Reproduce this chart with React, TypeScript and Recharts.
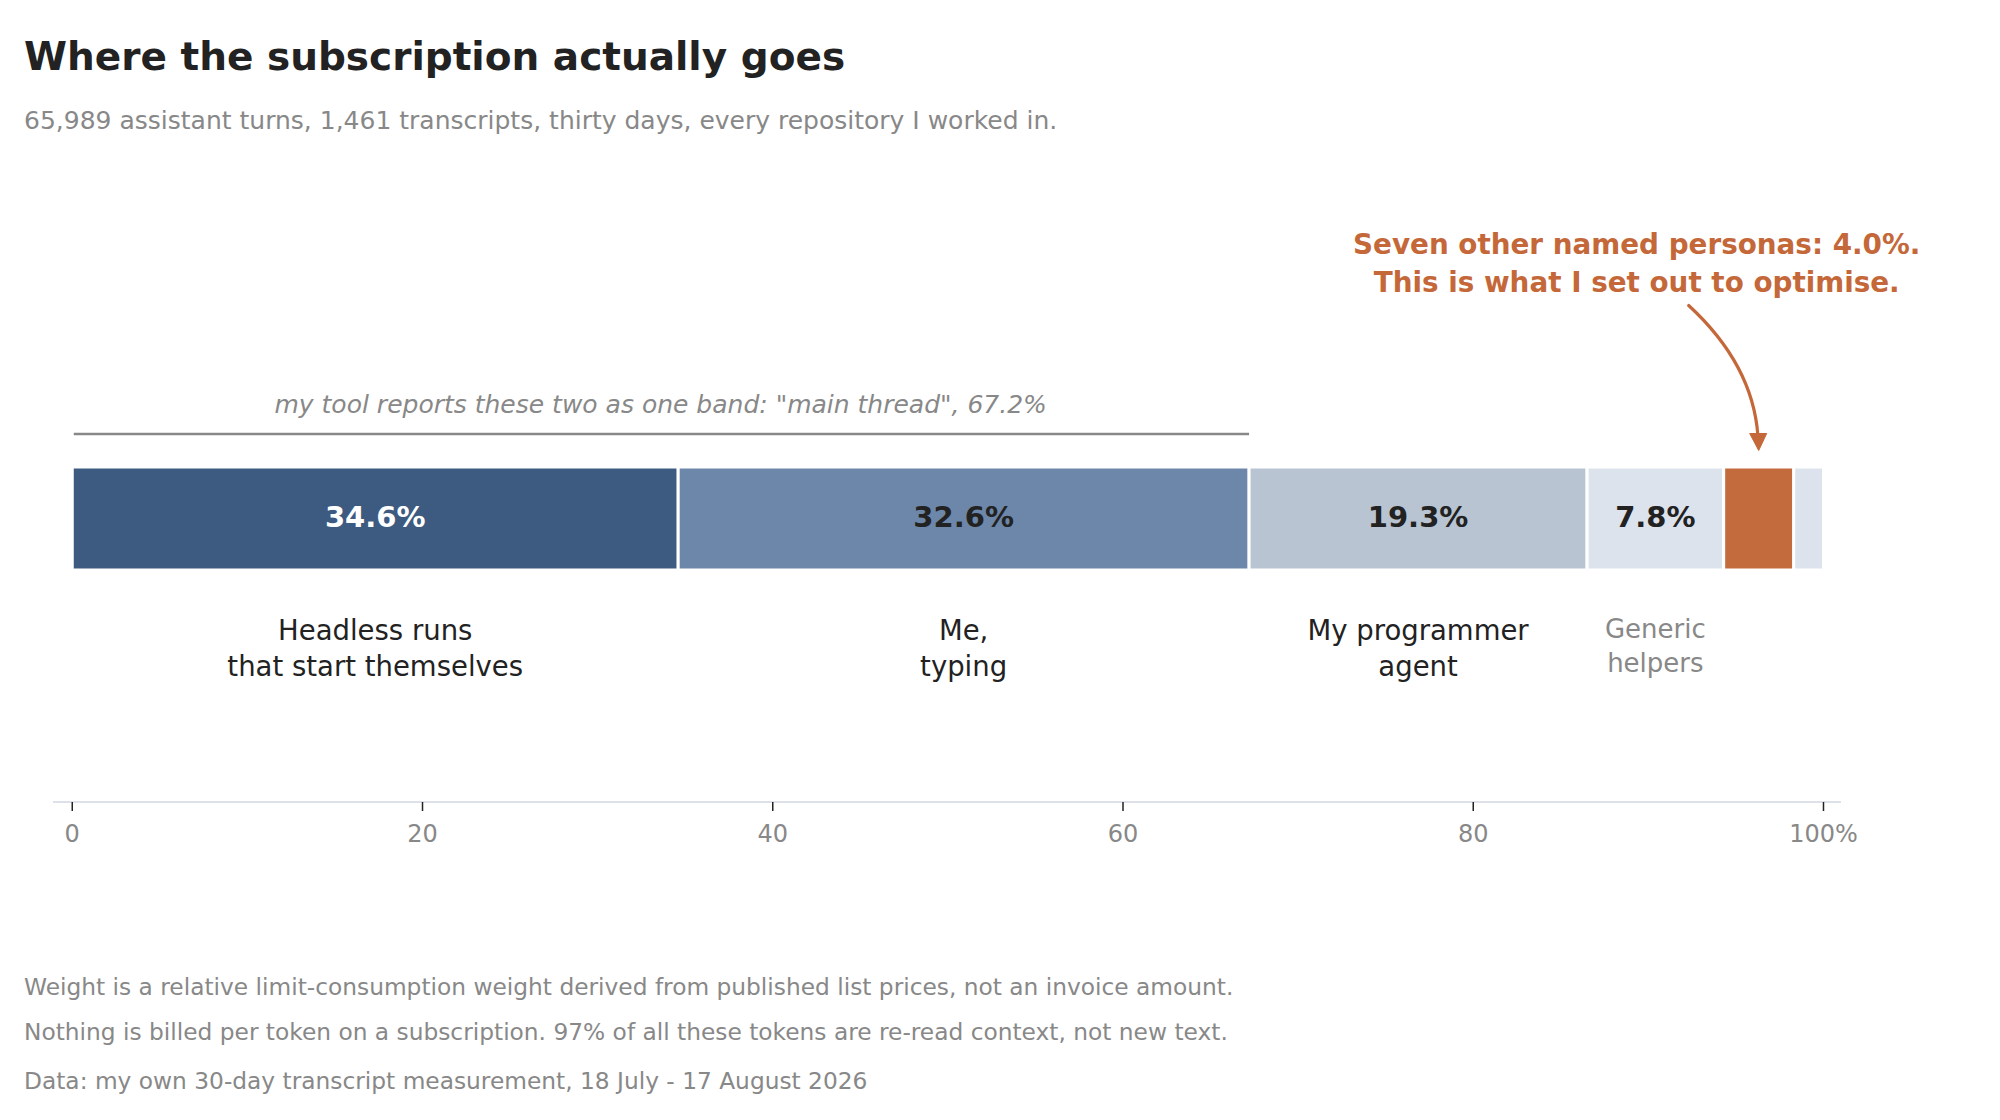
import React from 'react';
import { BarChart, Bar, XAxis, YAxis, LabelList, ReferenceArea } from 'recharts';

// ---- data ----
const bandName = 'all';
const segmentKeys = ['headless', 'me', 'agent', 'generic', 'personas', 'other'];
const segmentShares = [34.6, 32.6, 19.3, 7.8, 4.0, 1.7];
const segmentNames = [
  ['Headless runs', 'that start themselves'],
  ['Me,', 'typing'],
  ['My programmer', 'agent'],
  ['Generic', 'helpers'],
  [],
  [],
];
const showValueLabel = [true, true, true, true, false, false];
const xTicks = [0, 20, 40, 60, 80, 100];
const mainThreadShare = 67.2;
const bracketText = 'my tool reports these two as one band: "main thread", 67.2%';
const annotationLines = ['Seven other named personas: 4.0%.', 'This is what I set out to optimise.'];
const titleText = 'Where the subscription actually goes';
const subtitleText = '65,989 assistant turns, 1,461 transcripts, thirty days, every repository I worked in.';
const footnoteLines = [
  'Weight is a relative limit-consumption weight derived from published list prices, not an invoice amount.',
  'Nothing is billed per token on a subscription. 97% of all these tokens are re-read context, not new text.',
];
const sourceText = 'Data: my own 30-day transcript measurement, 18 July - 17 August 2026';

// ---- styles ----
const segmentColors = ['#3d5a80', '#6c87aa', '#b8c4d2', '#dde3ec', '#c46b3d', '#dde3ec'];
const valueColors = ['#ffffff', '#222222', '#222222', '#222222', '#222222', '#222222'];
const nameColors = ['#222222', '#222222', '#222222', '#888888', '#222222', '#222222'];
const accent = '#c4683a';
const FONT = '"DejaVu Sans", "Liberation Sans", sans-serif';

const rows = [
  segmentKeys.reduce((acc: any, k, i) => {
    acc[k] = segmentShares[i];
    return acc;
  }, { band: bandName } as any),
];

const getBox = (props: any) => {
  const vb = props && props.viewBox && typeof props.viewBox.width === 'number' ? props.viewBox : props;
  return {
    x: Number(vb.x),
    y: Number(vb.y),
    width: Number(vb.width),
    height: Number(vb.height),
  };
};

const makeSegmentLabel = (i: number) => (props: any) => {
  const { x, y, width, height } = getBox(props);
  const cx = x + width / 2;
  const cy = y + height / 2;
  const lines = segmentNames[i];
  const isMinor = i === 3;
  const nameSize = isMinor ? 26 : 27.5;
  const firstOffset = isMinor ? 119 : 121;
  const lineGap = isMinor ? 34.5 : 36;
  const v = props.value != null ? Number(props.value) : segmentShares[i];
  return (
    <g>
      {showValueLabel[i] && (
        <text
          x={cx}
          y={cy + 8.5}
          textAnchor="middle"
          fontSize={29}
          fontWeight="bold"
          fill={valueColors[i]}
          fontFamily={FONT}
        >
          {`${v.toFixed(1)}%`}
        </text>
      )}
      {lines.map((ln, k) => (
        <text
          key={k}
          x={cx}
          y={cy + firstOffset + k * lineGap}
          textAnchor="middle"
          fontSize={nameSize}
          fill={nameColors[i]}
          fontFamily={FONT}
        >
          {ln}
        </text>
      ))}
    </g>
  );
};

const personasAnnotation = (props: any) => {
  const { x, y, width, height } = getBox(props);
  const cx = x + width / 2;
  const top = y + height / 2 - 50;
  const tipY = top - 18;
  const baseY = top - 35;
  return (
    <g>
      {annotationLines.map((ln, k) => (
        <text
          key={k}
          x={cx - 122}
          y={top - 215 + k * 38}
          textAnchor="middle"
          fontSize={27.8}
          fontWeight="bold"
          fill={accent}
          fontFamily={FONT}
        >
          {ln}
        </text>
      ))}
      <path
        d={`M ${cx - 70} ${top - 163} Q ${cx - 6} ${top - 104} ${cx - 0.8} ${baseY + 2}`}
        fill="none"
        stroke={accent}
        strokeWidth={3.2}
        strokeLinecap="round"
      />
      <path
        d={`M ${cx} ${tipY} L ${cx - 9} ${baseY} L ${cx + 8} ${baseY} Z`}
        fill={accent}
        stroke={accent}
        strokeWidth={1}
        strokeLinejoin="round"
      />
    </g>
  );
};

const bracketShape = (p: any) => {
  const x = Number(p.x);
  const y = Number(p.y);
  const width = Number(p.width);
  const height = Number(p.height);
  const cy = y + height / 2;
  const ly = cy - 84;
  return (
    <g>
      <line x1={x + 1.5} x2={x + width} y1={ly} y2={ly} stroke="#888888" strokeWidth={2.5} />
      <text
        x={x + width / 2}
        y={cy - 104.7}
        textAnchor="middle"
        fontSize={25}
        fontStyle="italic"
        fill="#888888"
        fontFamily={FONT}
      >
        {bracketText}
      </text>
    </g>
  );
};

const tickFmt = (v: number) => (v === 100 ? '100%' : String(v));

export default function App() {
  return (
    <div
      style={{
        position: 'absolute',
        left: 0,
        top: 0,
        width: 2000,
        height: 1120,
        background: '#ffffff',
        fontFamily: FONT,
        overflow: 'hidden',
      }}
    >
      <div
        style={{
          position: 'absolute',
          left: 24,
          top: 36.5,
          fontSize: 39,
          lineHeight: '39px',
          fontWeight: 'bold',
          color: '#222222',
          whiteSpace: 'nowrap',
        }}
      >
        {titleText}
      </div>
      <div
        style={{
          position: 'absolute',
          left: 24,
          top: 108.2,
          fontSize: 25,
          lineHeight: '25px',
          color: '#888888',
          whiteSpace: 'nowrap',
        }}
      >
        {subtitleText}
      </div>
      <div style={{ position: 'absolute', left: 0, top: 0 }}>
        <BarChart
          width={2000}
          height={1120}
          data={rows}
          layout="vertical"
          margin={{ top: 234, right: 159, bottom: 288, left: 53 }}
          barSize={103}
          style={{ fontFamily: FONT }}
        >
          <XAxis
            type="number"
            domain={[-1.1, 101]}
            ticks={xTicks}
            interval={0}
            allowDataOverflow
            tickFormatter={tickFmt}
            axisLine={{ stroke: '#dde2ea', strokeWidth: 2 }}
            tickLine={{ stroke: '#222222', strokeWidth: 1.5 }}
            tickSize={9}
            tickMargin={14}
            tick={{ fill: '#888888', fontSize: 24, fontFamily: FONT }}
            height={30}
          />
          <YAxis type="category" dataKey="band" hide />
          <ReferenceArea x1={0} x2={mainThreadShare} shape={bracketShape} ifOverflow="visible" />
          {segmentKeys.map((k, i) => (
            <Bar
              key={k}
              dataKey={k}
              stackId="share"
              fill={segmentColors[i]}
              stroke="#ffffff"
              strokeWidth={3}
              isAnimationActive={false}
            >
              <LabelList
                dataKey={k}
                content={i === 4 ? personasAnnotation : makeSegmentLabel(i)}
              />
            </Bar>
          ))}
        </BarChart>
      </div>
      {footnoteLines.map((ln, k) => (
        <div
          key={k}
          style={{
            position: 'absolute',
            left: 24,
            top: 974.5 + k * 45,
            fontSize: 23.3,
            lineHeight: '23.3px',
            color: '#888888',
            whiteSpace: 'nowrap',
          }}
        >
          {ln}
        </div>
      ))}
      <div
        style={{
          position: 'absolute',
          left: 24,
          top: 1069,
          fontSize: 23.3,
          lineHeight: '23.3px',
          color: '#888888',
          whiteSpace: 'nowrap',
        }}
      >
        {sourceText}
      </div>
    </div>
  );
}
